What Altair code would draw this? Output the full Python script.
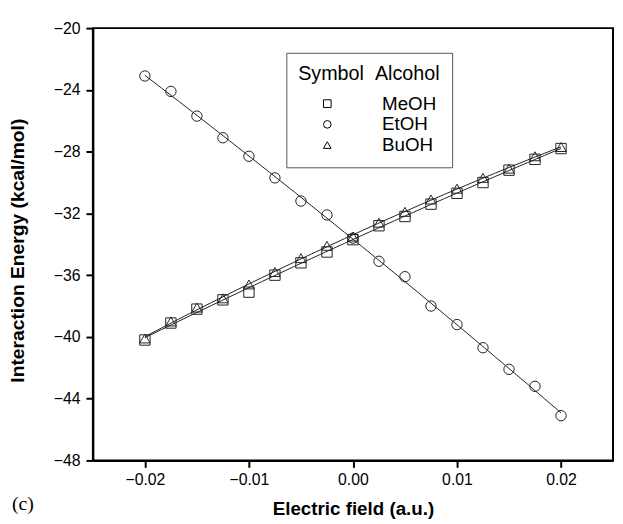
import altair as alt
import pandas as pd

field = [-0.02, -0.0175, -0.015, -0.0125, -0.01, -0.0075, -0.005, -0.0025, 0.0,
         0.0025, 0.005, 0.0075, 0.01, 0.0125, 0.015, 0.0175, 0.02]
meoh = [-40.2, -39.1, -38.2, -37.6, -37.1, -36.0, -35.2, -34.5, -33.7,
        -32.8, -32.2, -31.4, -30.7, -30.0, -29.2, -28.5, -27.8]
etoh = [-23.1, -24.1, -25.7, -27.1, -28.3, -29.7, -31.2, -32.1, -33.6,
        -35.1, -36.1, -38.0, -39.2, -40.7, -42.1, -43.2, -45.1]
buoh = [-40.1, -39.0, -38.1, -37.5, -36.6, -35.8, -34.9, -34.1, -33.5,
        -32.6, -31.9, -31.1, -30.4, -29.7, -29.1, -28.3, -27.7]
alcohols = ["MeOH", "EtOH", "BuOH"]
shapes = ["square", "circle", "triangle-up"]
x_ticks = [-0.02, -0.01, 0.0, 0.01, 0.02]
y_ticks = [-48, -44, -40, -36, -32, -28, -24, -20]

rows = []
for name, vals in zip(alcohols, [meoh, etoh, buoh]):
    for f, v in zip(field, vals):
        rows.append({"field": f, "energy": v, "alcohol": name})
df = pd.DataFrame(rows)

FONT = "Liberation Sans"

x_enc = alt.X("field:Q", scale=alt.Scale(domain=[-0.025, 0.025], nice=False, zero=False),
              axis=alt.Axis(values=x_ticks, format=".2f", title="Electric field (a.u.)",
                            titleY=55, titleBaseline="alphabetic"))
y_enc = alt.Y("energy:Q", scale=alt.Scale(domain=[-48, -20], nice=False, zero=False),
              axis=alt.Axis(values=y_ticks, format="d", title="Interaction Energy (kcal/mol)",
                            titleX=-66, titleY=225))

base = alt.Chart(df)

lines = base.transform_regression(
    "field", "energy", groupby=["alcohol"], method="poly", order=2
).mark_line(color="#222222", strokeWidth=1).encode(
    x=x_enc, y=y_enc, detail="alcohol:N"
)

points = base.mark_point(filled=False, color="#222222", strokeWidth=1, size=110, opacity=1).encode(
    x=x_enc, y=y_enc,
    shape=alt.Shape("alcohol:N", sort=alcohols,
                    scale=alt.Scale(domain=alcohols, range=shapes),
                    legend=alt.Legend(title="Symbol\u00a0\u00a0Alcohol", orient="none",
                                      legendX=196, legendY=25)),
)

label = alt.Chart(pd.DataFrame({"t": ["(c)"]})).mark_text(
    font="Liberation Serif", fontSize=20, align="left", baseline="alphabetic", color="black"
).encode(x=alt.value(-82), y=alt.value(488), text="t:N")

chart = alt.layer(lines, points, label).properties(
    width=527, height=438,
    padding={"left": 86, "top": 17, "right": 2, "bottom": 60},
    autosize=alt.AutoSizeParams(type="none"),
).configure_view(
    stroke="black", strokeWidth=2
).configure_axis(
    grid=False, domainColor="black", domainWidth=2, tickColor="black", tickWidth=2, tickSize=7,
    labelFont=FONT, labelFontSize=16, labelColor="black", labelPadding=4,
    titleFont=FONT, titleFontSize=19, titleFontWeight="bold", titleColor="black",
).configure_axisY(labelPadding=6, titleFontSize=19.5).configure_legend(
    padding=12, strokeColor="#555555", strokeWidth=1, fillColor="white",
    titleFont=FONT, titleFontSize=20, titleFontWeight="normal", titleColor="black",
    labelFont=FONT, labelFontSize=19, labelColor="black",
    symbolSize=60, symbolOffset=20, labelOffset=46, rowPadding=1, titlePadding=10,
    symbolStrokeColor="black", symbolStrokeWidth=1, symbolFillColor="transparent",
)

chart.save("out.html", embed_options={"renderer": "svg", "actions": False})
